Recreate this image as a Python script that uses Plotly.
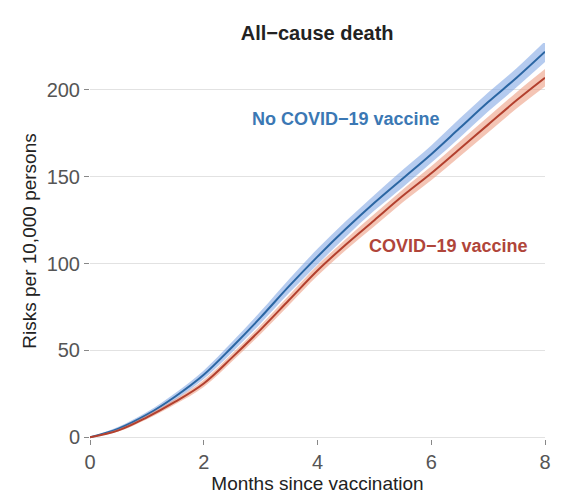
import plotly.graph_objects as go

months = [0, 0.5, 1, 1.5, 2, 2.5, 3, 3.5, 4, 4.5, 5, 5.5, 6, 6.5, 7, 7.5, 8]
no_vax = [0, 5, 13, 23.5, 36, 52, 69, 87, 104, 120, 135, 149, 163, 178, 193, 207, 222]
no_vax_lo = [0, 4, 11.5, 21.5, 33.5, 49, 65.5, 83, 99.5, 115.5, 130.5, 144, 158, 172.5, 187.5, 201.5, 216]
no_vax_hi = [0, 6, 14.5, 25.5, 38.5, 55, 72.5, 91, 108.5, 124.5, 139.5, 154, 168, 183.5, 198.5, 212.5, 228]
vax = [0, 4, 11.5, 20.5, 31, 46, 62, 79, 96, 111, 125, 139, 152, 166, 180, 194, 207]
vax_lo = [0, 3.3, 10.3, 19, 29, 43.8, 59.5, 76.2, 93, 107.8, 121.5, 135.3, 148, 161.7, 175.5, 189.3, 202]
vax_hi = [0, 4.7, 12.7, 22, 33, 48.2, 64.5, 81.8, 99, 114.2, 128.5, 142.7, 156, 170.3, 184.5, 198.7, 212]

x_ticks = [0, 2, 4, 6, 8]
y_ticks = [0, 50, 100, 150, 200]

BLUE = "#2b66a3"
BLUE_BAND = "rgba(120,160,225,0.55)"
RED = "#b3402e"
RED_BAND = "rgba(235,150,120,0.55)"
FONT = "Liberation Sans, Arial, sans-serif"

fig = go.Figure()
for lo, hi, mid, band, col in [
    (no_vax_lo, no_vax_hi, no_vax, BLUE_BAND, BLUE),
    (vax_lo, vax_hi, vax, RED_BAND, RED),
]:
    fig.add_trace(go.Scatter(x=months, y=hi, mode="lines", line=dict(width=0, shape="spline"),
                             showlegend=False, hoverinfo="skip"))
    fig.add_trace(go.Scatter(x=months, y=lo, mode="lines", line=dict(width=0, shape="spline"),
                             fill="tonexty", fillcolor=band, showlegend=False, hoverinfo="skip"))
    fig.add_trace(go.Scatter(x=months, y=mid, mode="lines", line=dict(width=2, color=col, shape="spline"),
                             showlegend=False))

fig.add_annotation(x=4.5, y=183, text="<b>No COVID−19 vaccine</b>", showarrow=False,
                   font=dict(family=FONT, size=18, color="#3b78b4"))
fig.add_annotation(x=6.3, y=110, text="<b>COVID−19 vaccine</b>", showarrow=False,
                   font=dict(family=FONT, size=18, color="#b0453a"))

fig.update_layout(
    width=584, height=500,
    margin=dict(l=90, r=39, t=43, b=61),
    paper_bgcolor="white", plot_bgcolor="white",
    font=dict(family=FONT, color="#222"),
    title=dict(text="<b>All−cause death</b>", x=0.543, xref="container", y=0.934, yref="container",
               xanchor="center", yanchor="middle", font=dict(family=FONT, size=20, color="#222")),
    xaxis=dict(range=[0, 8], tickvals=x_ticks, ticktext=[str(v) for v in x_ticks],
               showgrid=False, zeroline=False, showline=False,
               ticks="outside", ticklen=5, tickcolor="#888", tickwidth=1,
               tickfont=dict(family=FONT, size=20, color="#555"),
               title=dict(text="Months since vaccination", standoff=0,
                          font=dict(family=FONT, size=19, color="#222"))),
    yaxis=dict(range=[-1, 227], tickvals=y_ticks, ticktext=[str(v) for v in y_ticks],
               showgrid=True, gridcolor="#e2e2e2", gridwidth=1, zeroline=False, showline=False,
               ticks="outside", ticklen=5, tickcolor="#888", tickwidth=1,
               tickfont=dict(family=FONT, size=20, color="#555"),
               title=dict(text="Risks per 10,000 persons", standoff=4,
                          font=dict(family=FONT, size=19, color="#222"))),
)

fig.write_html("out.html")
